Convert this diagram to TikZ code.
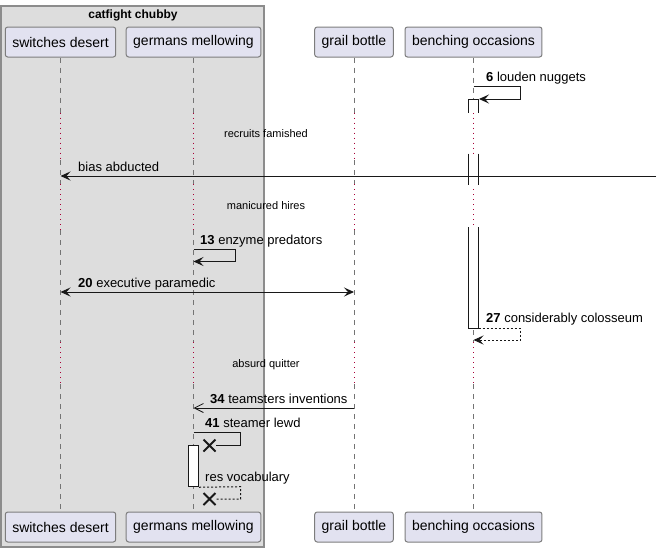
\documentclass[tikz,border=0pt]{standalone}
\usepackage{fontspec}
\setmainfont{Liberation Sans}
\usetikzlibrary{arrows.meta,shapes.misc,positioning}

\definecolor{partfill}{RGB}{226,226,240}
\definecolor{partline}{RGB}{125,125,125}
\definecolor{grpfill}{RGB}{221,221,221}
\definecolor{grpline}{RGB}{140,140,140}
\definecolor{ink}{RGB}{24,24,24}
\definecolor{delayred}{RGB}{168,0,54}

\tikzset{
  part/.style={draw=partline, fill=partfill, line width=1pt, rounded corners=2.5pt,
    minimum height=30pt, inner xsep=7pt, font=\fontsize{14}{16}\selectfont},
  life/.style={draw=ink!60, line width=0.8pt, dash pattern=on 5pt off 5pt},
  delay/.style={draw=delayred, line width=1pt, dash pattern=on 1pt off 4pt},
  actline/.style={draw=ink, line width=1pt},
  msg/.style={draw=ink, line width=1pt, -{Stealth[length=10pt,width=9pt,inset=4pt]}},
  msgback/.style={msg, dash pattern=on 2pt off 2pt},
  msgboth/.style={draw=ink, line width=1pt,
    {Stealth[length=10pt,width=9pt,inset=4pt]}-{Stealth[length=10pt,width=9pt,inset=4pt]}},
  msgopen/.style={draw=ink, line width=1pt, -{Straight Barb[length=9pt,width=9pt,line width=0.8pt]}},
  lbl/.style={anchor=base west, inner sep=0pt, font=\fontsize{13}{15}\selectfont},
  dlbl/.style={inner sep=0pt, font=\fontsize{11}{13}\selectfont},
  kill/.style={cross out, draw=ink, line width=2pt, minimum size=10pt, inner sep=0pt}
}

\begin{document}
\begin{tikzpicture}[x=1pt,y=-1pt]
    \tikzstyle{every node}=[node distance=485pt]
    \useasboundingbox (0,0) rectangle (660,552);

    % group
    \draw[draw=grpline, fill=grpfill, line width=1.2pt] (1,6) rectangle (264,547);
    \node (grp) at (133,15) {\fontsize{12}{14}\selectfont\bfseries catfight chubby};

    % participants
    \node[part] (top-sd) at (60.5,42) {switches desert};
    \node[part] (top-gm) at (193.5,42) {germans mellowing};
    \node[part] (top-gb) at (354,42) {grail bottle};
    \node[part] (top-bo) at (473.5,42) {benching occasions};
    \node[part] (bot-sd) [below of=top-sd] {switches desert};
    \node[part] (bot-gm) [below of=top-gm] {germans mellowing};
    \node[part] (bot-gb) [below of=top-gb] {grail bottle};
    \node[part] (bot-bo) [below of=top-bo] {benching occasions};

    % delays
    \coordinate (d1) at (0,112.5);
    \coordinate (d1e) at (0,160);
    \coordinate (d2) at (0,184);
    \coordinate (d2e) at (0,230);
    \coordinate (d3) at (0,342);
    \coordinate (d3e) at (0,384);

    \foreach \p in {sd,gm,gb,bo}{
      \draw[life] (top-\p.south) -- (top-\p |- d1);
      \draw[delay] (top-\p |- d1) -- (top-\p |- d1e);
      \draw[life] (top-\p |- d1e) -- (top-\p |- d2);
      \draw[delay] (top-\p |- d2) -- (top-\p |- d2e);
      \draw[life] (top-\p |- d2e) -- (top-\p |- d3);
      \draw[delay] (top-\p |- d3) -- (top-\p |- d3e);
      \draw[life] (top-\p |- d3e) -- (bot-\p.north);
    }

    \node[dlbl] (dl1) at (266,134) {recruits famished};
    \node[dlbl] (dl2) at (266,206) {manicured hires};
    \node[dlbl] (dl3) at (266,365) {absurd quitter};

    % activations
    \draw[actline, fill=white] (468.5,112.7) -- (468.5,99.3) -- (478.5,99.3) -- (478.5,112.7);
    \fill[white] (468.5,153.5) rectangle (478.5,185);
    \draw[actline] (468.5,153.5) -- (468.5,185) (478.5,153.5) -- (478.5,185);
    \draw[actline, fill=white] (468.5,227) -- (468.5,328) -- (478.5,328) -- (478.5,227);
    \node[actline, draw, fill=white, minimum width=10pt, minimum height=41.5pt,
      inner sep=0pt] (gm-act) at (193.7,466) {};

    % messages
    \coordinate (m6) at (top-bo |- 0,86);
    \draw[msg] (m6) -- ++(47,0) -- ++(0,13) -- ++(-41.5,0);
    \node[lbl] (l6) at (486,81) {\textbf{6} louden nuggets};

    \coordinate (rim) at (656,176);
    \draw[msg] (rim) -- (top-sd |- rim);
    \node[lbl] (lbias) at (78,171) {bias abducted};

    \coordinate (m13) at (top-gm |- 0,249);
    \draw[msg] (m13) -- ++(42,0) -- ++(0,12.5) -- ++(-42,0);
    \node[lbl] (l13) at (200,244) {\textbf{13} enzyme predators};

    \draw[msgboth] (top-sd |- 0,292) -- (top-gb |- 0,292);
    \node[lbl] (l20) at (78,287) {\textbf{20} executive paramedic};

    \coordinate (m27) at (478.5,328);
    \draw[msgback] (m27) -- (520,328) -- (520,340) -- (top-bo |- 0,340);
    \node[lbl] (l27) at (486,322) {\textbf{27} considerably colosseum};

    \draw[msgopen] (top-gb |- 0,408) -- (top-gm |- 0,408);
    \node[lbl] (l34) at (210,403) {\textbf{34} teamsters inventions};

    \node[kill] (x41) at (209.5,445.5) {};
    \draw[draw=ink, line width=1pt] (top-gm |- 0,432) -- (240.7,432) |- (x41);
    \node[lbl] (l41) at (205,427) {\textbf{41} steamer lewd};

    \node[kill] (xres) at (209.5,499) {};
    \draw[draw=ink, line width=1pt, dash pattern=on 2pt off 2pt] (gm-act.south east) -- (240.7,486.7) |- (xres);
    \node[lbl] (lres) at (205,481) {res vocabulary};
\end{tikzpicture}
\end{document}
